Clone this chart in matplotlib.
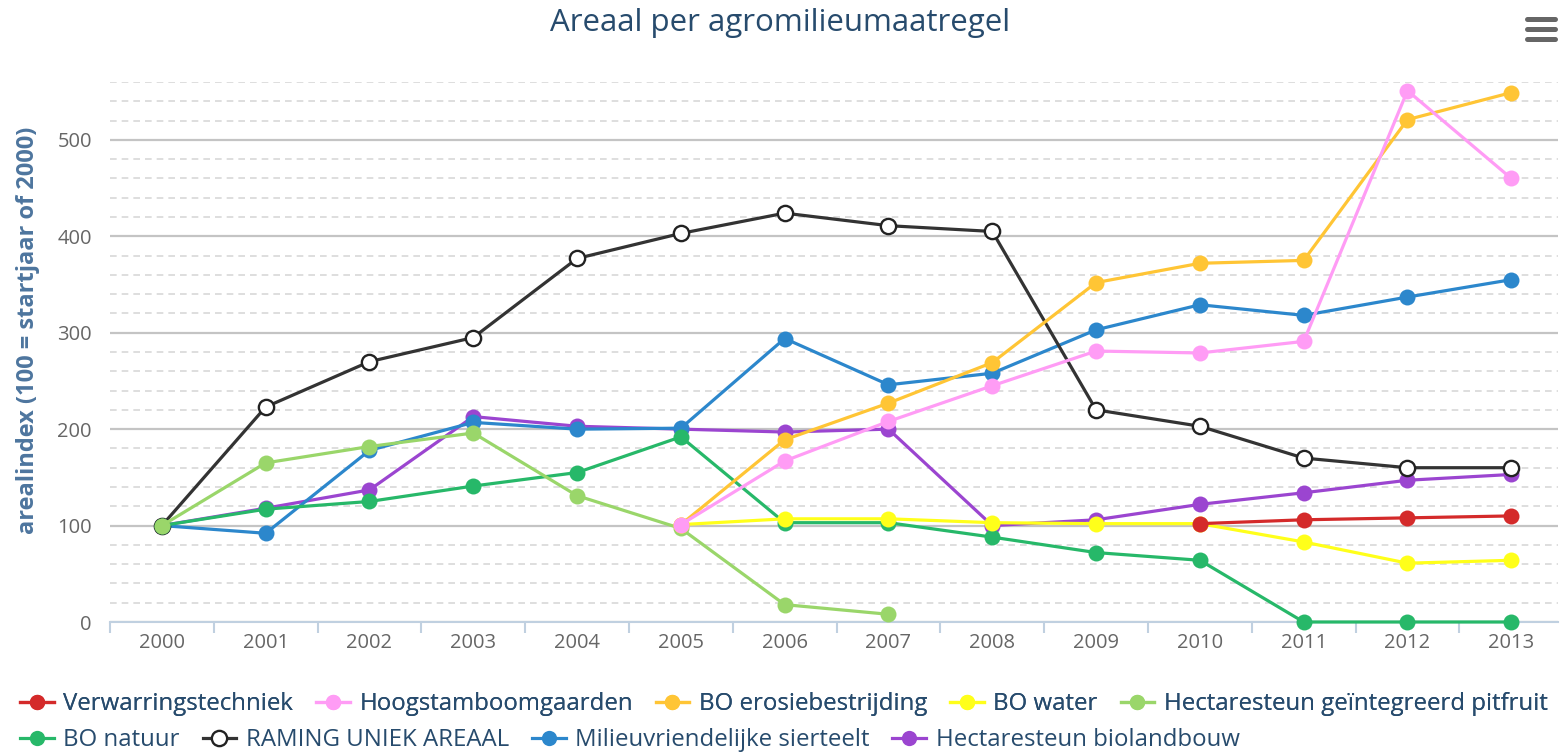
import numpy as np
import matplotlib
matplotlib.use("Agg")
import matplotlib.pyplot as plt
from matplotlib.lines import Line2D
from matplotlib.ticker import MultipleLocator, FixedLocator

plt.rcParams['font.family'] = ['Open Sans', 'DejaVu Sans']

nan = np.nan
years = ["2000", "2001", "2002", "2003", "2004", "2005", "2006",
         "2007", "2008", "2009", "2010", "2011", "2012", "2013"]

verwarringstechniek = [nan, nan, nan, nan, nan, nan, nan, nan, nan, nan, 102, 106, 108, 110]
hoogstamboomgaarden = [nan, nan, nan, nan, nan, 101, 167, 208, 245, 281, 279, 291, 551, 460]
bo_erosiebestrijding = [nan, nan, nan, nan, nan, 101, 189, 227, 269, 352, 372, 375, 521, 549]
bo_water = [nan, nan, nan, nan, nan, 101, 107, 107, 103, 102, 102, 83, 61, 64]
pitfruit = [100, 165, 182, 196, 131, 97, 18, 8, nan, nan, nan, nan, nan, nan]
bo_natuur = [100, 117, 125, 141, 155, 192, 103, 103, 88, 72, 64, 0, 0, 0]
raming = [100, 223, 270, 295, 377, 403, 424, 411, 405, 220, 203, 170, 160, 160]
sierteelt = [100, 92, 178, 207, 200, 201, 294, 246, 258, 303, 329, 318, 337, 355]
biolandbouw = [100, 118, 137, 213, 203, 200, 197, 200, 100, 106, 122, 134, 147, 153]

series_names = ["Verwarringstechniek", "Hoogstamboomgaarden", "BO erosiebestrijding",
                "BO water", "Hectaresteun geïntegreerd pitfruit", "BO natuur",
                "RAMING UNIEK AREAAL", "Milieuvriendelijke sierteelt",
                "Hectaresteun biolandbouw"]
series_values = [verwarringstechniek, hoogstamboomgaarden, bo_erosiebestrijding,
                 bo_water, pitfruit, bo_natuur, raming, sierteelt, biolandbouw]
colors = ["#d42a2a", "#ff9cf5", "#ffc535", "#ffff1a", "#9ad66a", "#27b869",
          "#333333", "#2c87cc", "#9b45d0"]

W, H = 1560, 753
fig = plt.figure(figsize=(W / 100, H / 100), dpi=100)
fig.patch.set_facecolor("white")

left, right = 110 / W, 1558 / W
bottom, top = 1 - 622 / H, 1 - 82 / H
ax = fig.add_axes([left, bottom, right - left, top - bottom])

x = np.arange(len(years))
handles = []
for i, (name, vals, col) in enumerate(zip(series_names, series_values, colors)):
    v = np.array(vals, dtype=float)
    if name == "RAMING UNIEK AREAAL":
        ln, = ax.plot(x, v, color=col, lw=2.3, marker="o", ms=11,
                      mfc="white", mec="#222222", mew=1.7, zorder=20 - i,
                      clip_on=False, label=name)
    else:
        ln, = ax.plot(x, v, color=col, lw=2.3, marker="o", ms=11.5,
                      mfc=col, mec=col, mew=0, zorder=20 - i,
                      clip_on=False, label=name)
    handles.append(ln)

ax.set_xlim(-0.48, 13.45)
ax.set_ylim(0, 560)

# grid
ax.yaxis.set_major_locator(FixedLocator([0, 100, 200, 300, 400, 500]))
ax.yaxis.set_minor_locator(MultipleLocator(20))
ax.grid(axis="y", which="major", color="#c4c4c4", lw=1.6, ls="-", zorder=0)
ax.grid(axis="y", which="minor", color="#d8d8d8", lw=1.2, ls=(0, (4, 3)), zorder=0)
ax.set_axisbelow(True)

for s in ["top", "right", "left"]:
    ax.spines[s].set_visible(False)
ax.spines["bottom"].set_color("#c0d0e0")
ax.spines["bottom"].set_linewidth(1.5)

ax.set_xticks(x)
ax.set_xticklabels(years, fontsize=14.5, color="#666666")
ax.set_xticks(np.arange(-0.5, 13.5, 1.0), minor=True)
ax.tick_params(axis="x", which="major", length=0, pad=8)
ax.tick_params(axis="x", which="minor", length=8, color="#c0d0e0", width=1.5)
ax.tick_params(axis="y", which="both", length=0)
ax.tick_params(axis="y", which="major", labelsize=14.5, labelcolor="#666666", pad=13)

fig.text(28 / W, 1 - 330 / H, "arealindex (100 = startjaar of 2000)", rotation=90,
         ha="center", va="center", fontsize=17, fontweight="bold", color="#4d759e")

fig.text(0.5, 1 - 23 / H, "Areaal per agromilieumaatregel", ha="center", va="center",
         fontsize=22.5, color="#274b6d")

# hamburger menu icon
for yy in (19, 29, 39):
    fig.add_artist(Line2D([1527 / W, 1555 / W], [1 - yy / H, 1 - yy / H],
                          color="#666666", lw=3.6, solid_capstyle="round"))

leg_kw = dict(frameon=False, fontsize=17.3, labelcolor="#274b6d", handlelength=1.4,
              handletextpad=0.4, columnspacing=0.95, borderaxespad=0, borderpad=0)
leg1 = fig.legend(handles=handles[:5], loc="center left", ncol=5,
                  bbox_to_anchor=(20 / W, 1 - 704 / H), **leg_kw)
fig.add_artist(leg1)
leg2 = fig.legend(handles=handles[5:], loc="center left", ncol=4,
                  bbox_to_anchor=(20 / W, 1 - 740 / H), **leg_kw)
for lg in (leg1, leg2):
    for h in lg.legend_handles:
        h.set_markersize(11)
        h.set_linewidth(2.3)

fig.savefig("out.png", dpi=100, facecolor="white")
